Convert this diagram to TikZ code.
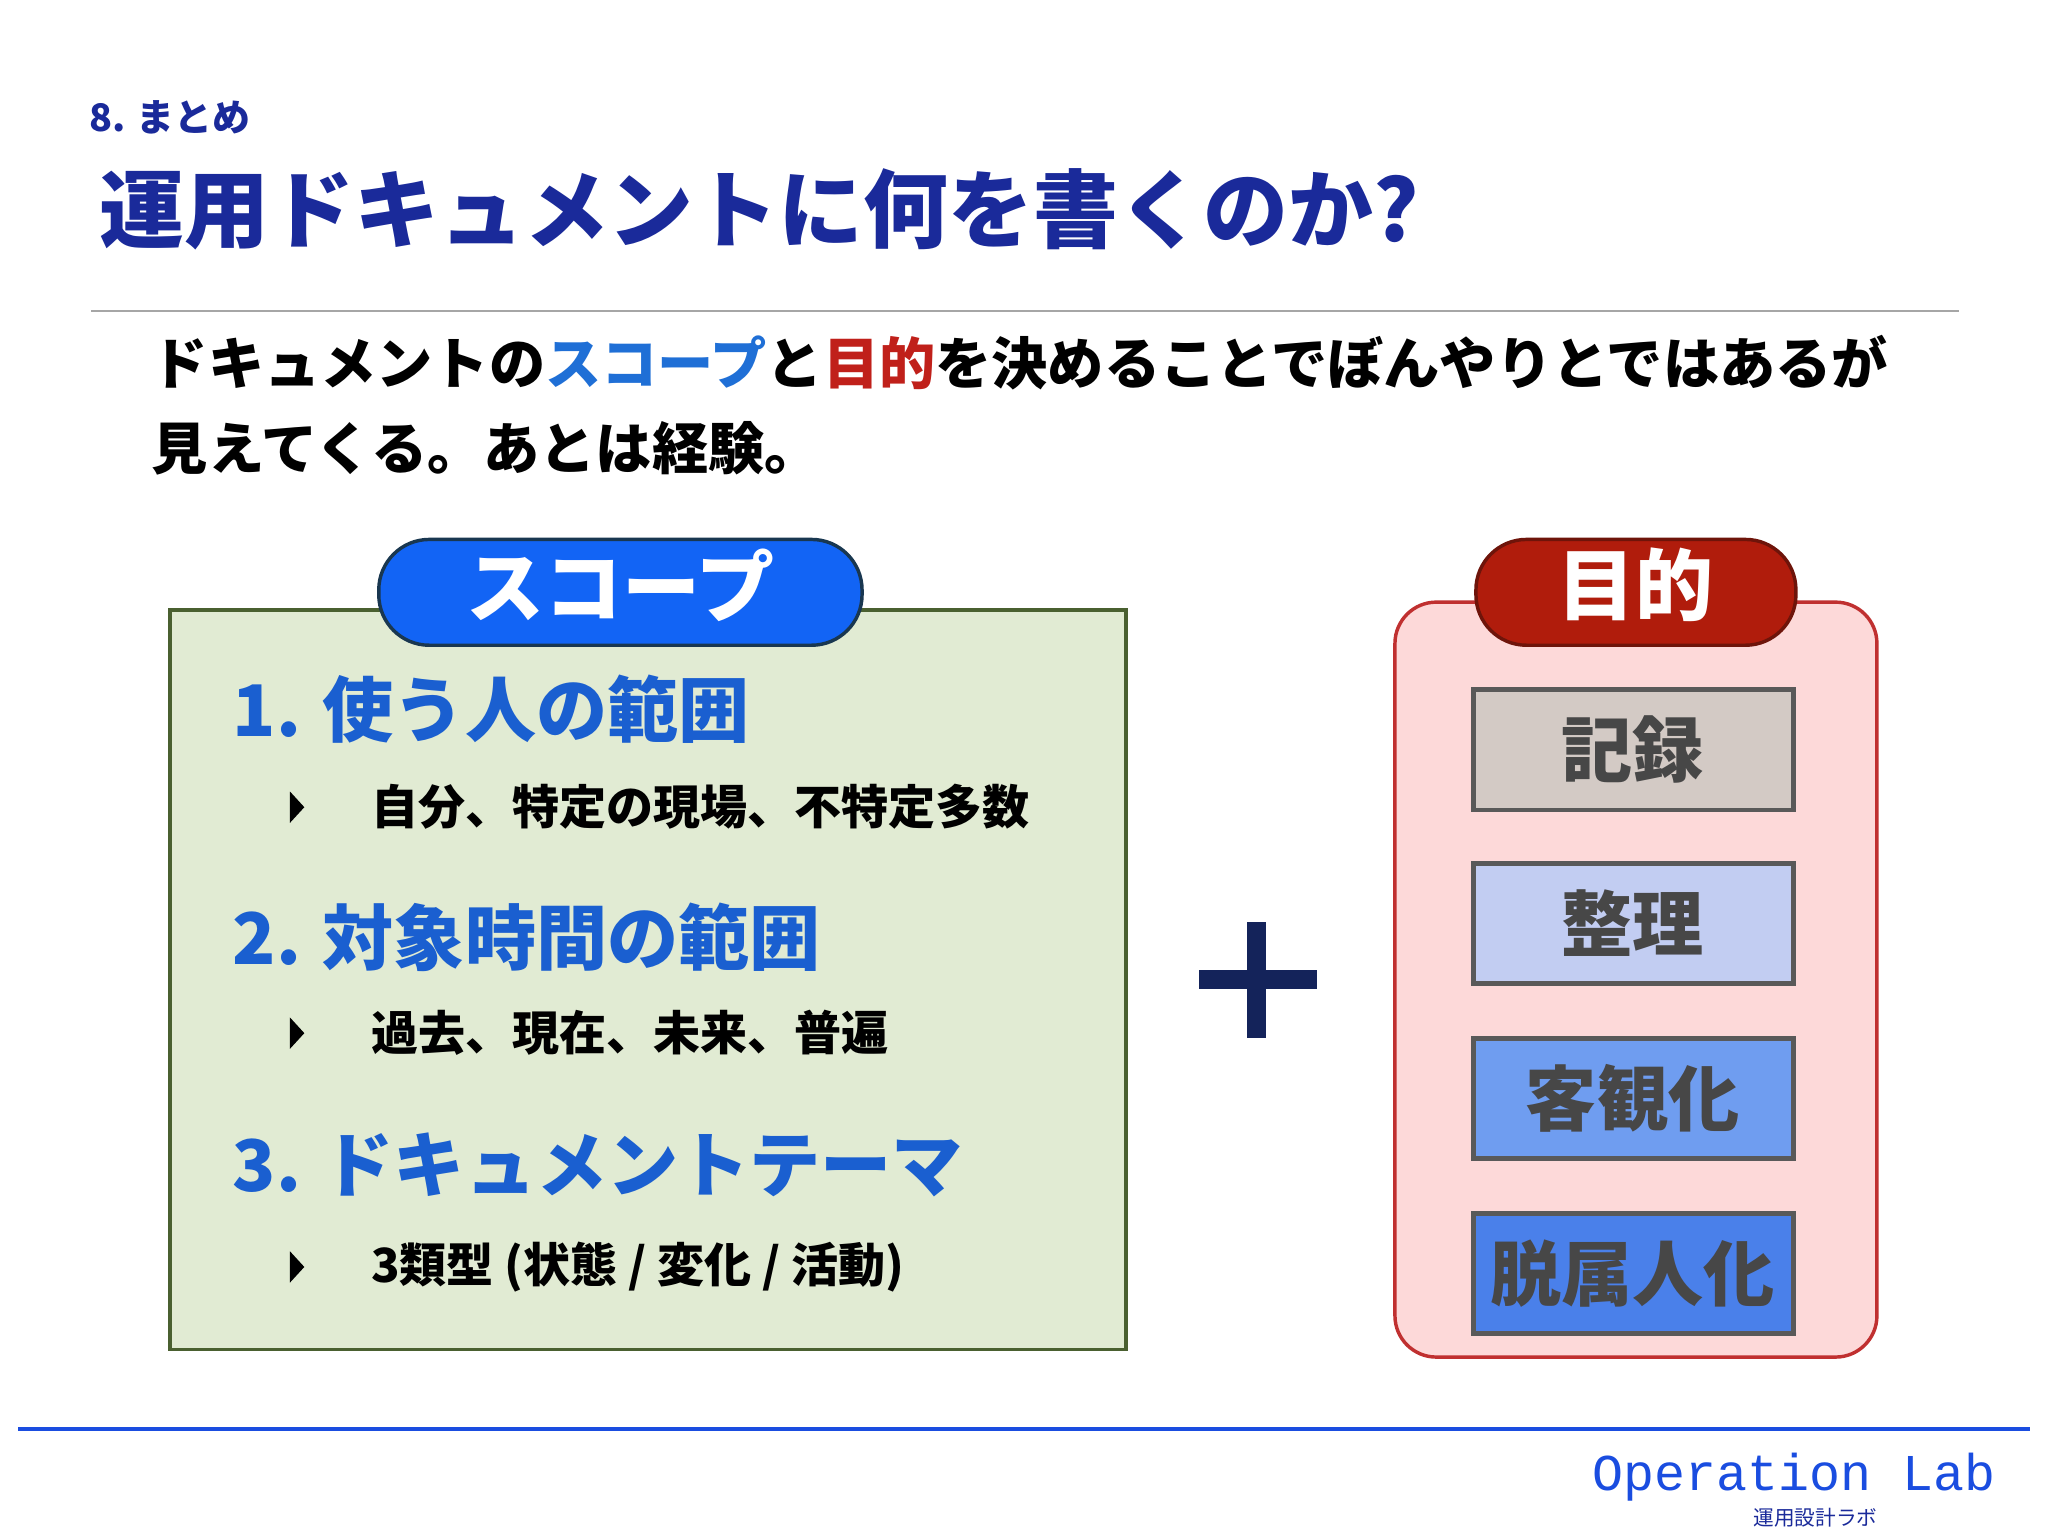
\documentclass[tikz,border=0pt]{standalone}
\usepackage{fontspec}
\setmainfont{Noto Sans CJK JP}
\newfontfamily\monof{Liberation Mono}
\definecolor{navy}{HTML}{1A2A9A}
\definecolor{sblue}{HTML}{1F6FD6}
\definecolor{rred}{HTML}{C0201A}
\definecolor{itemblue}{HTML}{1A5FD0}
\begin{document}
\begin{tikzpicture}[x=0.02cm,y=-0.02cm,
  fs/.style={font=\fontsize{#1}{#1}\selectfont\bfseries},
  tab/.style={rounded corners=22pt,line width=1.5pt},
  pbox/.style={draw=black!65,line width=2pt},
  ptxt/.style={fs=31,text=black!72,anchor=center},
  item/.style={fs=31,text=itemblue,anchor=west},
  sub/.style={fs=20.5,anchor=west}]
\useasboundingbox[fill=white] (0,0) rectangle (1568,1176);
\node[fs=16.5,text=navy,anchor=west] (sec) at (62,90) {8. まとめ};
\node[fs=37,text=navy,anchor=west] (title) at (70,160) {運用ドキュメントに何を書くのか?};
\draw[black!35,line width=0.8pt] (70,238) -- (1500,238);
\node[fs=24.5,anchor=west] (l1) at (110,278) {ドキュメントの\textcolor{sblue}{スコープ}と\textcolor{rred}{目的}を決めることでぼんやりとではあるが};
\node[fs=24.5,anchor=west] (l2) at (110,343) {見えてくる。あとは経験。};
% scope box
\draw[draw={rgb,255:red,74;green,96;blue,48},line width=1.5pt,fill={rgb,255:red,225;green,235;blue,211}] (130,467) rectangle (862,1033);
\draw[tab,fill={rgb,255:red,18;green,100;blue,245},draw={rgb,255:red,25;green,55;blue,80}] (290,413) rectangle (660,494);
\node[fs=34,text=white] (scope) at (475,448) {スコープ};
\node[item] (i1) at (172,543) {1. 使う人の範囲};
\node[item] (i2) at (172,718) {2. 対象時間の範囲};
\node[item] (i3) at (172,892) {3. ドキュメントテーマ};
\foreach \y/\t in {618/{自分、特定の現場、不特定多数},791/{過去、現在、未来、普遍},970/{3類型 (状態 / 変化 / 活動)}}{
  \fill (222,\y-12) -- (233,\y) -- (222,\y+12) -- cycle;
  \node[sub] at (278,\y) {\t};
}
% plus
\draw[line width=8pt,color={rgb,255:red,20;green,35;blue,90}] (918,750) -- (1008,750) (962,706) -- (962,795);
% purpose box
\draw[rounded corners=18pt,fill={rgb,255:red,253;green,217;blue,217},draw={rgb,255:red,192;green,48;blue,48},line width=1.5pt] (1068,461) rectangle (1437,1039);
\draw[tab,fill={rgb,255:red,176;green,28;blue,12},draw={rgb,255:red,110;green,20;blue,10}] (1130,413) rectangle (1375,494);
\node[fs=34,text=white] (purp) at (1252,448) {目的};
\draw[pbox,fill={rgb,255:red,211;green,202;blue,197}] (1128,528) rectangle (1373,620);
\node[ptxt] (p1) at (1250,574) {記録};
\draw[pbox,fill={rgb,255:red,194;green,205;blue,242}] (1128,661) rectangle (1373,753);
\node[ptxt] (p2) at (1250,707) {整理};
\draw[pbox,fill={rgb,255:red,111;green,157;blue,240}] (1128,795) rectangle (1373,887);
\node[ptxt] (p3) at (1250,841) {客観化};
\draw[pbox,fill={rgb,255:red,74;green,128;blue,234}] (1128,929) rectangle (1373,1021);
\node[ptxt] (p4) at (1250,975) {脱属人化};
% footer
\draw[line width=1.5pt,color={rgb,255:red,26;green,77;blue,224}] (14,1094) -- (1554,1094);
\node[anchor=east,text={rgb,255:red,26;green,77;blue,224},font=\monof\fontsize{22.5}{22.5}\selectfont] (ol) at (1534,1131) {Operation Lab};
\node[font=\fontsize{9}{9}\selectfont,text=navy] (olj) at (1390,1162) {運用設計ラボ};
\end{tikzpicture}
\end{document}
